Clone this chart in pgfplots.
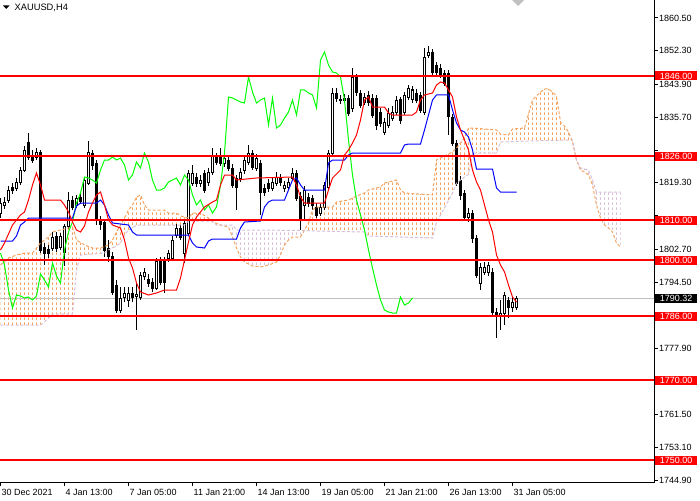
\documentclass[border=0pt]{standalone}
\usepackage{pgfplots}
\pgfplotsset{compat=1.18}
\usepackage{pgfplotstable}
\usepgfplotslibrary{fillbetween}
\usetikzlibrary{patterns}
\usepackage{fontspec}
\setmainfont{Liberation Sans}

\definecolor{sandy}{RGB}{244,164,96}
\definecolor{thist}{RGB}{216,191,216}
\definecolor{chik}{RGB}{0,255,0}
\definecolor{bidgray}{RGB}{192,192,192}

\pgfdeclarepatternformonly{cloudhatch}{\pgfpointorigin}{\pgfpoint{4pt}{5pt}}{\pgfpoint{4pt}{5pt}}{%
  \pgfsetlinewidth{1pt}%
  \pgfpathmoveto{\pgfpoint{0.5pt}{0pt}}%
  \pgfpathlineto{\pgfpoint{0.5pt}{3pt}}%
  \pgfusepath{stroke}}

\pgfplotstableread{
i o h l c
0 1811.75 1815.5 1810.5 1814.25
1 1813.75 1815.75 1812.75 1814.5
2 1815.0 1818.5 1814.25 1817.5
3 1818.25 1819.25 1816.5 1817.5
4 1818.0 1820.5 1817.25 1819.5
5 1819.5 1823.25 1818.75 1822.5
6 1822.5 1828.5 1822.0 1827.5
7 1829.5 1831.75 1825.0 1825.75
8 1826.25 1827.5 1824.25 1825.0
9 1825.75 1828.0 1825.0 1827.0
10 1827.0 1827.5 1801.75 1802.5
11 1803.25 1804.25 1798.75 1801.75
12 1802.75 1803.75 1800.5 1801.75
13 1803.0 1807.0 1802.25 1805.75
14 1806.0 1807.0 1802.0 1803.0
15 1803.25 1806.75 1802.5 1806.0
16 1802.0 1809.0 1798.5 1808.5
17 1808.5 1817.0 1807.75 1815.0
18 1815.0 1816.0 1812.5 1813.25
19 1813.75 1816.25 1813.0 1815.5
20 1815.75 1817.0 1814.0 1814.75
21 1813.75 1820.75 1813.0 1820.0
22 1819.25 1829.75 1818.75 1827.0
23 1826.75 1827.5 1822.5 1823.75
24 1824.25 1825.0 1808.75 1810.0
25 1810.0 1811.0 1807.5 1809.0
26 1809.5 1810.25 1800.75 1802.5
27 1803.0 1805.0 1799.5 1801.0
28 1801.0 1802.0 1791.25 1792.0
29 1793.75 1795.0 1786.75 1787.5
30 1787.5 1793.25 1786.75 1790.5
31 1790.75 1793.25 1789.5 1791.75
32 1790.0 1793.25 1788.25 1791.75
33 1791.75 1793.25 1789.5 1790.75
34 1791.0 1794.25 1782.5 1791.5
35 1790.75 1797.0 1790.0 1796.25
36 1796.0 1798.0 1795.0 1797.0
37 1795.25 1796.5 1793.25 1794.25
38 1794.5 1795.5 1792.0 1793.0
39 1793.0 1800.5 1792.5 1799.75
40 1800.0 1800.75 1793.75 1794.5
41 1799.5 1800.75 1791.75 1794.25
42 1800.5 1802.5 1799.5 1801.75
43 1800.5 1806.0 1800.0 1805.0
44 1806.25 1809.0 1805.5 1808.0
45 1808.0 1808.75 1805.0 1805.75
46 1801.75 1810.0 1799.25 1809.25
47 1806.75 1822.5 1806.0 1821.75
48 1819.25 1823.75 1818.5 1821.75
49 1820.75 1821.75 1818.25 1819.25
50 1819.25 1821.25 1818.25 1820.0
51 1821.75 1822.5 1816.75 1817.5
52 1819.5 1823.0 1818.5 1822.0
53 1822.0 1828.0 1821.25 1826.0
54 1825.75 1826.75 1823.75 1824.5
55 1825.75 1828.0 1823.5 1824.25
56 1824.25 1826.5 1823.25 1825.5
57 1825.0 1826.0 1822.25 1823.0
58 1823.0 1824.0 1818.0 1818.75
59 1820.5 1821.25 1812.5 1818.25
60 1820.5 1823.0 1819.5 1822.0
61 1822.5 1825.75 1821.5 1825.0
62 1824.5 1828.75 1823.75 1826.75
63 1826.75 1827.5 1822.5 1823.25
64 1823.0 1826.5 1822.25 1825.5
65 1824.25 1825.0 1811.25 1817.0
66 1818.0 1819.0 1816.0 1817.0
67 1819.25 1820.25 1817.0 1818.0
68 1818.0 1820.5 1817.25 1819.5
69 1819.25 1822.0 1818.5 1820.75
70 1820.5 1821.5 1818.5 1819.5
71 1818.0 1819.75 1817.0 1818.75
72 1818.25 1820.5 1817.5 1819.5
73 1820.5 1823.0 1819.75 1821.75
74 1821.75 1822.5 1814.75 1815.5
75 1816.0 1817.0 1807.5 1810.5
76 1813.75 1818.5 1810.0 1817.5
77 1815.75 1816.75 1813.25 1814.25
78 1815.5 1816.25 1812.5 1813.75
79 1813.25 1814.25 1810.5 1811.25
80 1811.75 1814.0 1811.0 1813.25
81 1813.25 1819.5 1812.5 1818.75
82 1818.25 1827.5 1817.5 1826.75
83 1826.75 1843.0 1826.25 1841.75
84 1841.75 1843.0 1839.5 1840.5
85 1840.25 1841.25 1839.0 1839.75
86 1840.0 1841.5 1839.25 1840.5
87 1840.5 1841.25 1836.0 1836.75
88 1838.0 1848.0 1837.0 1845.75
89 1845.75 1846.5 1841.0 1841.75
90 1841.75 1842.5 1838.0 1838.75
91 1839.5 1841.75 1838.75 1840.75
92 1841.25 1842.25 1838.5 1839.5
93 1840.5 1841.5 1835.5 1836.25
94 1840.5 1841.25 1832.5 1833.75
95 1837.0 1838.0 1833.25 1834.25
96 1832.0 1835.5 1831.25 1834.5
97 1833.75 1838.0 1833.0 1836.75
98 1835.5 1838.5 1834.75 1837.0
99 1837.0 1841.0 1836.25 1840.0
100 1840.0 1840.75 1834.0 1835.0
101 1837.0 1842.0 1836.25 1841.25
102 1840.75 1843.75 1840.0 1843.0
103 1840.0 1843.5 1839.25 1842.5
104 1841.75 1842.75 1839.25 1840.0
105 1841.25 1842.0 1836.75 1837.5
106 1837.0 1853.0 1836.25 1850.75
107 1851.25 1853.5 1850.5 1852.0
108 1852.0 1852.75 1846.25 1847.0
109 1848.75 1849.5 1846.0 1846.75
110 1848.0 1849.0 1845.5 1846.25
111 1846.75 1847.5 1843.5 1844.25
112 1846.75 1847.5 1831.25 1835.75
113 1835.75 1836.5 1828.5 1829.25
114 1829.25 1830.0 1818.5 1819.25
115 1820.0 1821.0 1815.0 1816.25
116 1816.75 1817.5 1810.0 1810.75
117 1810.75 1813.0 1809.5 1811.75
118 1811.75 1812.5 1804.25 1805.5
119 1805.5 1806.25 1795.5 1796.25
120 1794.25 1799.25 1792.5 1798.25
121 1797.0 1799.5 1796.25 1798.25
122 1797.0 1799.5 1796.0 1798.75
123 1797.0 1798.0 1786.25 1787.0
124 1787.0 1788.0 1780.5 1786.25
125 1786.25 1790.0 1782.5 1786.75
126 1786.75 1792.0 1783.75 1791.25
127 1790.0 1790.75 1785.5 1788.25
128 1788.25 1790.75 1787.0 1789.5
129 1788.25 1791.0 1787.5 1790.32
}\candles

\pgfplotstableread{
i t
0 1802.5
1 1804.25
2 1806.5
3 1808.75
5 1811.25
6 1812.0
7 1815.0
8 1818.75
9 1821.75
10 1818.75
11 1815.0
15 1815.0
16 1813.75
17 1812.0
18 1809.5
19 1807.5
20 1807.0
21 1808.5
22 1812.0
23 1814.25
24 1816.25
25 1817.0
26 1813.75
27 1810.0
28 1808.75
30 1808.0
31 1805.0
32 1800.5
33 1798.0
34 1794.25
35 1792.0
37 1791.25
39 1791.75
41 1792.5
44 1792.5
45 1795.5
46 1800.0
47 1804.5
48 1808.75
49 1810.75
51 1813.25
53 1814.5
54 1815.0
55 1818.75
56 1821.25
58 1821.25
59 1820.0
64 1820.5
73 1820.75
74 1818.75
75 1815.75
76 1814.25
81 1814.25
82 1817.5
83 1820.5
85 1822.5
86 1826.25
87 1827.5
88 1829.25
89 1831.25
90 1835.0
91 1840.0
92 1840.75
93 1838.25
96 1838.25
97 1836.75
98 1836.25
103 1836.25
104 1837.0
105 1840.0
106 1841.25
108 1841.75
109 1843.75
110 1844.5
111 1844.25
112 1842.5
113 1840.75
114 1835.75
115 1832.5
116 1830.0
117 1827.5
118 1822.5
119 1819.5
120 1817.5
121 1813.75
122 1810.0
123 1807.0
124 1801.25
125 1798.75
126 1797.0
127 1793.75
128 1790.75
129 1789.5
}\tenkan

\pgfplotstableread{
i k
0 1804.75
3 1804.75
4 1806.0
5 1808.75
6 1809.5
7 1810.5
18 1810.5
19 1813.5
20 1814.25
24 1814.25
25 1815.0
26 1813.75
27 1811.25
28 1809.25
32 1808.75
33 1807.0
34 1806.25
47 1806.25
48 1804.25
49 1803.25
51 1803.0
52 1804.75
53 1805.25
59 1805.25
60 1808.0
61 1809.5
65 1809.75
66 1813.25
67 1814.5
68 1815.0
71 1815.0
72 1817.5
73 1820.0
74 1820.5
75 1818.75
76 1817.5
81 1817.5
82 1824.25
83 1825.0
86 1825.0
87 1826.25
88 1826.75
100 1826.75
101 1828.75
102 1829.0
105 1829.0
106 1832.5
107 1836.25
108 1840.0
109 1841.25
112 1841.25
113 1837.5
114 1834.25
115 1832.5
116 1832.0
117 1830.75
118 1827.5
119 1822.75
123 1822.75
124 1818.0
125 1817.0
129 1817.0
}\kijun

\pgfplotstableread{
i g
0 1801.75
1 1798.75
2 1792.5
3 1788.0
4 1791.25
5 1791.0
6 1790.5
7 1790.75
8 1790.0
9 1791.0
10 1796.5
11 1795.0
12 1793.25
13 1799.25
14 1796.0
15 1794.25
16 1802.5
17 1807.0
18 1809.5
19 1814.25
20 1816.75
21 1820.75
22 1820.5
23 1820.0
24 1819.25
25 1822.5
26 1825.0
27 1825.0
28 1825.75
29 1825.0
30 1825.5
31 1823.75
32 1820.0
33 1821.25
34 1824.5
35 1823.0
36 1826.75
37 1824.5
38 1820.0
39 1817.5
40 1817.5
41 1818.0
42 1819.5
43 1820.0
44 1820.5
45 1818.75
46 1821.25
47 1820.0
48 1816.25
49 1813.75
50 1815.0
51 1812.5
52 1813.75
53 1811.75
54 1813.25
55 1818.75
56 1826.75
57 1840.75
58 1840.5
59 1840.0
60 1839.5
61 1839.25
62 1845.75
63 1842.0
64 1839.25
65 1840.0
66 1840.5
67 1833.75
68 1840.5
69 1833.0
70 1833.75
71 1835.5
72 1837.0
73 1840.0
74 1836.25
75 1842.5
76 1842.5
77 1841.75
78 1841.25
79 1838.0
80 1850.0
81 1852.0
82 1848.75
83 1847.0
84 1846.75
85 1845.75
86 1840.0
87 1830.0
88 1821.25
89 1815.0
90 1811.25
91 1807.5
92 1802.5
93 1798.0
94 1793.75
95 1790.0
96 1787.5
97 1787.0
98 1786.75
99 1786.75
100 1790.75
101 1788.75
102 1789.25
103 1790.5
}\chikou

\pgfplotstableread{
i a
0 1798.75
2 1800.5
4 1801.25
6 1801.75
8 1801.75
9 1803.0
10 1804.25
12 1805.75
13 1807.0
15 1807.5
17 1808.0
18 1808.25
19 1805.0
21 1803.75
23 1803.0
25 1803.0
27 1803.75
28 1805.0
29 1807.0
30 1808.75
31 1810.5
32 1812.5
33 1813.75
34 1815.75
35 1816.25
36 1813.75
37 1812.5
41 1812.5
42 1811.75
44 1811.75
45 1811.0
47 1810.5
48 1811.75
50 1811.75
52 1810.5
53 1809.5
55 1808.75
57 1808.25
58 1805.75
59 1803.0
60 1800.75
61 1799.5
63 1798.5
65 1798.25
67 1798.75
69 1799.5
70 1801.25
71 1803.75
72 1805.0
73 1805.75
75 1805.75
76 1807.5
77 1809.25
78 1812.5
79 1813.25
83 1813.25
84 1814.5
87 1815.0
89 1816.0
91 1816.75
92 1817.5
95 1818.25
96 1819.25
98 1819.75
99 1820.0
100 1817.5
101 1816.75
108 1816.25
109 1825.0
110 1825.5
113 1827.0
114 1828.0
116 1830.5
117 1833.0
118 1833.0
124 1832.5
125 1831.5
127 1831.25
128 1832.75
131 1833.0
132 1836.5
133 1840.0
135 1842.0
136 1842.75
137 1842.75
138 1842.0
139 1841.0
140 1834.5
141 1833.5
142 1832.0
143 1829.5
144 1825.0
145 1822.5
146 1822.0
147 1821.25
148 1818.75
149 1813.75
150 1810.5
151 1808.75
152 1808.0
153 1807.0
154 1804.25
155 1803.25
}\spanA

\pgfplotstableread{
i b
0 1783.75
10 1783.75
11 1784.5
12 1785.5
13 1786.5
18 1786.5
19 1797.5
20 1801.25
26 1801.75
27 1802.5
29 1803.5
30 1804.25
31 1806.25
32 1807.5
33 1808.0
34 1808.75
46 1808.75
47 1809.75
53 1809.75
54 1808.75
55 1808.75
58 1808.75
59 1807.5
76 1807.4
79 1807.25
91 1807.0
92 1806.0
108 1805.5
109 1809.5
111 1813.0
113 1816.75
114 1819.25
115 1820.0
117 1821.5
118 1826.75
124 1826.75
125 1829.5
132 1829.75
143 1830.0
144 1825.0
145 1823.0
147 1822.5
148 1820.0
149 1817.0
155 1817.0
}\spanB

\begin{document}
\begin{tikzpicture}
\begin{axis}[
  at={(0pt,0pt)}, anchor=north west,
  scale only axis, width=654pt, height=482.5pt,
  xmin=-0.125, xmax=163.375, ymin=1744.375, ymax=1865,
  axis x line*=bottom, axis y line*=right,
  axis line style={line width=1pt, black, -},
  tick align=outside,
  major tick length=3.5pt,
  every tick/.style={black, line width=1pt},
  xtick={0,16,32,48,64,80,96,112,128},
  xticklabels={30 Dec 2021,4 Jan 13:00,7 Jan 05:00,11 Jan 21:00,14 Jan 13:00,19 Jan 05:00,21 Jan 21:00,26 Jan 13:00,31 Jan 05:00},
  ytick={1860.5,1852.3,1843.9,1835.7,1827.5,1819.3,1811.1,1802.7,1794.5,1786.3,1777.9,1769.7,1761.5,1753.1,1744.9},
  yticklabels={1860.50,1852.30,1843.90,1835.70,{},1819.30,{},1802.70,1794.50,{},1777.90,{},1761.50,1753.10,1744.90},
  ticklabel style={font=\fontsize{9}{10}\selectfont, inner sep=0pt},
  xticklabel style={anchor=north west, xshift=1pt, yshift=-3pt},
  yticklabel style={anchor=west, xshift=1.5pt},
]
% bid line
\addplot[bidgray, line width=1pt, forget plot] coordinates {(-1,1790.32) (170,1790.32)};
% wicks
\addplot[draw=none, mark=none, forget plot,
  error bars/.cd, y dir=both, y explicit, error mark=none,
  error bar style={draw=black, line width=1pt, line cap=butt}]
  table[x=i, y expr={(\thisrow{h}+\thisrow{l})/2}, y error expr={(\thisrow{h}-\thisrow{l})/2}] {\candles};
% bodies
\addplot[draw=none, mark=none, forget plot,
  error bars/.cd, y dir=both, y explicit, error mark=none,
  error bar style={draw=black, line width=3pt, line cap=butt}]
  table[x=i, y expr={(\thisrow{o}+\thisrow{c})/2}, y error expr={abs(\thisrow{o}-\thisrow{c})/2+0.125}] {\candles};
% hollow inside of bullish bodies
\addplot[draw=none, mark=none, forget plot,
  error bars/.cd, y dir=both, y explicit, error mark=none,
  error bar style={draw=white, line width=1pt, line cap=butt}]
  table[x=i, y expr={(\thisrow{o}+\thisrow{c})/2}, y error expr={(\thisrow{c}>\thisrow{o})*max(abs(\thisrow{o}-\thisrow{c})/2-0.125,0)}] {\candles};
% cloud segments
\addplot[name path=A1, draw=none, forget plot, restrict x to domain=0:55] table[x=i, y=a] {\spanA};
\addplot[name path=B1, draw=none, forget plot, restrict x to domain=0:55] table[x=i, y=b] {\spanB};
\addplot[name path=A2, draw=none, forget plot, restrict x to domain=55:76] table[x=i, y=a] {\spanA};
\addplot[name path=B2, draw=none, forget plot, restrict x to domain=55:76] table[x=i, y=b] {\spanB};
\addplot[name path=A3, draw=none, forget plot, restrict x to domain=76:144] table[x=i, y=a] {\spanA};
\addplot[name path=B3, draw=none, forget plot, restrict x to domain=76:144] table[x=i, y=b] {\spanB};
\addplot[name path=A4, draw=none, forget plot, restrict x to domain=144:156] table[x=i, y=a] {\spanA};
\addplot[name path=B4, draw=none, forget plot, restrict x to domain=144:156] table[x=i, y=b] {\spanB};
\addplot[pattern=cloudhatch, pattern color=sandy, draw=none, forget plot] fill between[of=A1 and B1];
\addplot[pattern=cloudhatch, pattern color=thist, draw=none, forget plot] fill between[of=A2 and B2];
\addplot[pattern=cloudhatch, pattern color=sandy, draw=none, forget plot] fill between[of=A3 and B3];
\addplot[pattern=cloudhatch, pattern color=thist, draw=none, forget plot] fill between[of=A4 and B4];
\addplot[sandy, line width=1pt, dash pattern=on 3pt off 2pt, forget plot] table[x=i, y=a] {\spanA};
\addplot[thist, line width=1pt, dash pattern=on 3pt off 2pt, forget plot] table[x=i, y=b] {\spanB};
% lines
\addplot[chik, line width=1pt, forget plot] table[x=i, y=g] {\chikou};
\addplot[blue, line width=1pt, forget plot] table[x=i, y=k] {\kijun};
\addplot[red, line width=1pt, forget plot] table[x=i, y=t] {\tenkan};
% horizontal levels
\addplot[red, line width=2pt, forget plot] coordinates {(-1,1846) (170,1846)};
\addplot[red, line width=2pt, forget plot] coordinates {(-1,1826) (170,1826)};
\addplot[red, line width=2pt, forget plot] coordinates {(-1,1810) (170,1810)};
\addplot[red, line width=2pt, forget plot] coordinates {(-1,1800) (170,1800)};
\addplot[red, line width=2pt, forget plot] coordinates {(-1,1786) (170,1786)};
\addplot[red, line width=2pt, forget plot] coordinates {(-1,1770) (170,1770)};
\addplot[red, line width=2pt, forget plot] coordinates {(-1,1750) (170,1750)};
\coordinate (L1846) at (axis cs:163.375,1846);
\coordinate (L1826) at (axis cs:163.375,1826);
\coordinate (L1810) at (axis cs:163.375,1810);
\coordinate (L1800) at (axis cs:163.375,1800);
\coordinate (L1786) at (axis cs:163.375,1786);
\coordinate (L1770) at (axis cs:163.375,1770);
\coordinate (L1750) at (axis cs:163.375,1750);
\coordinate (Lbid) at (axis cs:163.375,1790.32);
\end{axis}
\tikzset{lvl/.style={anchor=west, fill=red, text=white, font=\fontsize{9}{10}\selectfont,
  inner xsep=0pt, inner ysep=0pt, minimum height=9pt, minimum width=42pt, xshift=1pt}}
\foreach \p/\t in {L1846/1846.00, L1826/1826.00, L1810/1810.00, L1800/1800.00, L1786/1786.00, L1770/1770.00, L1750/1750.00}
  \node[lvl] at (\p) {\t};
\node[lvl, fill=black] at (Lbid) {1790.32};
% title
\fill[black] (3pt,-5.5pt) -- (9.5pt,-5.5pt) -- (6.25pt,-9pt) -- cycle;
\node[anchor=base west, inner sep=0pt, font=\fontsize{9.3}{10}\selectfont] at (14.5pt,-10.7pt) {XAUUSD,H4};
% chart shift marker
\fill[bidgray] (512pt,0pt) -- (524pt,0pt) -- (518pt,-6pt) -- cycle;
\pgfresetboundingbox
\path[use as bounding box] (0pt,0pt) rectangle (700pt,-500pt);
\end{tikzpicture}
\end{document}
